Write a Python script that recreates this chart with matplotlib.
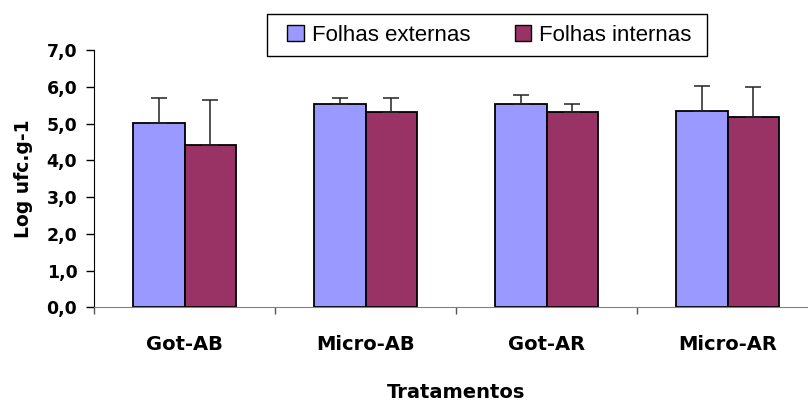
import matplotlib
matplotlib.use("Agg")
import matplotlib.pyplot as plt
from matplotlib.patches import Patch, Rectangle
import numpy as np

categories = ["Got-AB", "Micro-AB", "Got-AR", "Micro-AR"]
externas = [5.02, 5.53, 5.53, 5.33]
externas_err = [0.68, 0.17, 0.25, 0.69]
internas = [4.41, 5.30, 5.30, 5.17]
internas_err = [1.24, 0.40, 0.24, 0.82]
series_names = ["Folhas externas", "Folhas internas"]
ytick_values = [0, 1, 2, 3, 4, 5, 6, 7]
ytick_labels = ["0,0", "1,0", "2,0", "3,0", "4,0", "5,0", "6,0", "7,0"]

c_ext = "#9999FF"
c_int = "#993366"

W, H = 808, 401
fig = plt.figure(figsize=(W/100, H/100), dpi=100)
ax = fig.add_axes([94/W, 1-307.3/H, 724/W, (307.3-50)/H])

x = np.arange(len(categories))
w = 0.287
err_kw = dict(ecolor="#222222", elinewidth=1.1, capsize=6, capthick=1.1)
ax.bar(x - w/2, externas, w, color=c_ext, edgecolor="black", linewidth=1.3,
       yerr=[np.zeros(len(x)), externas_err], error_kw=err_kw, zorder=2)
ax.bar(x + w/2, internas, w, color=c_int, edgecolor="black", linewidth=1.3,
       yerr=[np.zeros(len(x)), internas_err], error_kw=err_kw, zorder=2)

ax.set_xlim(-0.5, len(categories) - 0.5)
ax.set_ylim(0, 7)

bold = dict(family="DejaVu Sans", weight="bold")
ax.set_yticks(ytick_values)
ax.set_yticklabels(ytick_labels, fontsize=12.5, **bold)
ax.tick_params(axis="y", direction="out", length=6, width=1, pad=6, color="black")

ax.set_xticks(np.arange(-0.5, len(categories)), labels=[""] * (len(categories) + 1))
ax.tick_params(axis="x", which="major", direction="out", length=5, width=1, color="#555555")
ax.set_xticks(x, minor=True)
ax.set_xticklabels(categories, minor=True, fontsize=14, **bold)
ax.tick_params(axis="x", which="minor", length=0, pad=20)

ax.spines["top"].set_visible(False)
ax.spines["right"].set_visible(False)
ax.spines["left"].set_color("black")
ax.spines["bottom"].set_color("#808080")

ax.set_ylabel("Log ufc.g-1", fontsize=13.5, labelpad=10, **bold)
ax.set_xlabel("Tratamentos", fontsize=14, labelpad=21, **bold)

handles = [Patch(facecolor=c_ext, edgecolor="black", linewidth=1.0),
           Patch(facecolor=c_int, edgecolor="black", linewidth=1.0)]
leg = fig.legend(handles, series_names, loc="center", bbox_to_anchor=(489.5/W, 1-35.3/H),
                 ncol=2, frameon=False,
                 prop=dict(family="Liberation Sans", size=16),
                 handlelength=0.75, handleheight=0.75, handletextpad=0.35,
                 columnspacing=2.0, borderpad=0.0)
# legend frame
fig.patches.append(Rectangle((268/W, 1-57/H), 440/W, 42/H, transform=fig.transFigure,
                             facecolor="#999999", edgecolor="none", zorder=1))
fig.patches.append(Rectangle((267/W, 1-56/H), 440/W, 42/H, transform=fig.transFigure,
                             facecolor="white", edgecolor="black", linewidth=1.0, zorder=2))

fig.savefig("out.png", dpi=100)
